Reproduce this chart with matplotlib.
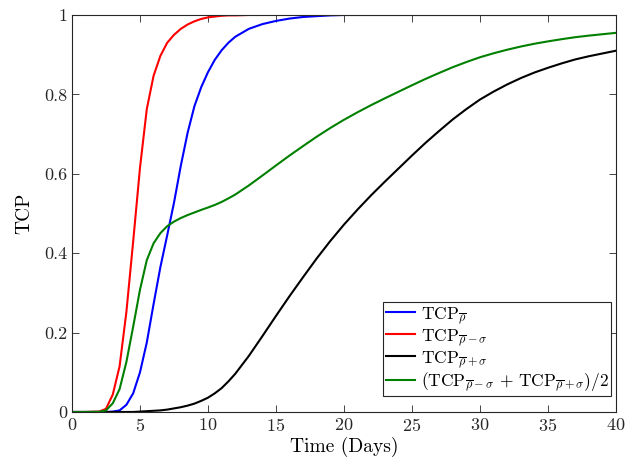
import matplotlib
matplotlib.use('Agg')
import matplotlib.pyplot as plt
from matplotlib.ticker import FuncFormatter
import numpy as np

# time grid (days) shared by all curves
days = [0, 1, 2, 2.5, 3, 3.5, 4, 4.5, 5, 5.5, 6, 6.5, 7, 7.5, 8, 8.5, 9, 9.5,
        10, 10.5, 11, 11.5, 12, 13, 14, 15, 16, 17, 18, 19, 20, 21, 22, 23, 24,
        25, 26, 27, 28, 29, 30, 31, 32, 33, 34, 35, 36, 37, 38, 39, 40]

tcp_mean = [0, 0, 0, 0, 0.001, 0.004, 0.018, 0.047, 0.100, 0.175, 0.272, 0.365,
            0.445, 0.527, 0.620, 0.703, 0.770, 0.818,
            0.856, 0.887, 0.911, 0.930, 0.945, 0.965, 0.977, 0.985, 0.991, 0.995,
            0.997, 0.999, 1.0,
            1.0, 1.0, 1.0, 1.0, 1.0, 1.0, 1.0, 1.0, 1.0, 1.0, 1.0, 1.0, 1.0,
            1.0, 1.0, 1.0, 1.0, 1.0, 1.0, 1.0]

tcp_minus = [0, 0, 0.001, 0.008, 0.044, 0.115, 0.252, 0.430, 0.615, 0.763, 0.847,
             0.897, 0.930, 0.950, 0.965, 0.976, 0.984, 0.990,
             0.994, 0.996, 0.998, 0.999, 0.999, 1.0, 1.0, 1.0, 1.0, 1.0, 1.0,
             1.0, 1.0,
             1.0, 1.0, 1.0, 1.0, 1.0, 1.0, 1.0, 1.0, 1.0, 1.0, 1.0, 1.0, 1.0,
             1.0, 1.0, 1.0, 1.0, 1.0, 1.0, 1.0]

tcp_plus = [0, 0, 0, 0, 0, 0, 0, 0, 0.001, 0.002, 0.003, 0.004, 0.006, 0.009,
            0.012, 0.016, 0.021, 0.028,
            0.036, 0.047, 0.060, 0.077, 0.096, 0.141, 0.191, 0.242, 0.292, 0.340,
            0.387, 0.431, 0.472,
            0.510, 0.546, 0.580, 0.613, 0.646, 0.678, 0.708, 0.737, 0.763, 0.787,
            0.807, 0.825, 0.841, 0.855, 0.867, 0.878, 0.888, 0.896, 0.903, 0.910]

days = np.array(days)
tcp_avg = (np.array(tcp_minus) + np.array(tcp_plus)) / 2

plt.rcParams['font.family'] = 'cmr10'
plt.rcParams['mathtext.fontset'] = 'cm'
plt.rcParams['axes.formatter.use_mathtext'] = True

fig = plt.figure(figsize=(6.26, 4.68), dpi=100)
ax = fig.add_axes([0.115, 0.1197, 0.869, 0.8483])

ax.plot(days, tcp_mean, color=(0, 0, 1), lw=1.5,
        label=r'$\mathrm{TCP}_{\overline{\rho}}$')
ax.plot(days, tcp_minus, color=(1, 0, 0), lw=1.5,
        label=r'$\mathrm{TCP}_{\overline{\rho}-\sigma}$')
ax.plot(days, tcp_plus, color='k', lw=1.5,
        label=r'$\mathrm{TCP}_{\overline{\rho}+\sigma}$')
ax.plot(days, tcp_avg, color=(0, 0.5, 0), lw=1.5,
        label=r'$(\mathrm{TCP}_{\overline{\rho}-\sigma}\,+\,\mathrm{TCP}_{\overline{\rho}+\sigma})/2$')

ax.set_xlim(0, 40)
ax.set_ylim(0, 1)
ax.set_xticks(range(0, 41, 5))
ax.set_yticks([0, 0.2, 0.4, 0.6, 0.8, 1])
ax.yaxis.set_major_formatter(FuncFormatter(lambda v, p: '%g' % v))
ax.tick_params(direction='in', top=True, right=True, labelsize=13,
               length=5, width=0.6, colors='#262626')
for s in ax.spines.values():
    s.set_linewidth(0.8)
    s.set_color('#262626')

ax.set_xlabel('Time (Days)', fontsize=14, labelpad=2)
ax.set_ylabel('TCP', fontsize=14, labelpad=8)

leg = ax.legend(loc='lower right', bbox_to_anchor=(0.991, 0.04), fontsize=12.5,
                handlelength=1.7, handletextpad=0.3, labelspacing=0.05,
                borderpad=0.15, borderaxespad=0, fancybox=False, framealpha=1)
leg.get_frame().set_edgecolor('#262626')
leg.get_frame().set_linewidth(0.8)

fig.savefig('out.png', dpi=100)
